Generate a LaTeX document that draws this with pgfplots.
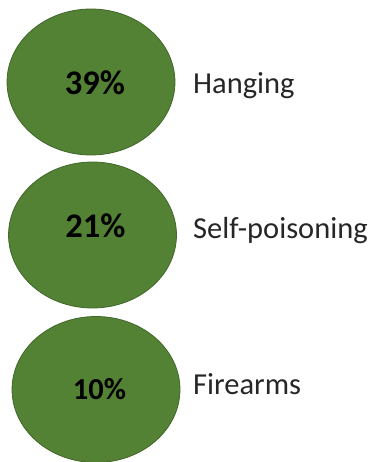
\documentclass[border=0pt]{standalone}
\usepackage{pgfplots}
\usepackage{pgfplotstable}
\pgfplotsset{compat=1.18}
\usepackage{fontspec}
\setmainfont{Carlito}
\definecolor{bubble}{HTML}{548235}
\definecolor{bubbleedge}{HTML}{41672A}
\pgfplotstableread{
cx cy lx ly label
91 82 193 93 Hanging
92.5 235 193 238 Self-poisoning
96 389.5 193 394 Firearms
}\data
\pgfplotstableread{
tx ty pct
95 94 39
95.5 237 21
}\pctbig
\pgfplotstableread{
tx ty pct
99.5 399 10
}\pctsmall
\begin{document}
\begin{tikzpicture}
\useasboundingbox (0,0) rectangle (374bp,462bp);
\begin{axis}[
  width=374bp, height=462bp, scale only axis,
  xmin=0, xmax=374, ymin=0, ymax=462, y dir=reverse,
  hide axis, clip=false,
]
\addplot[only marks, mark=*, mark size=73bp,
  mark options={xscale=1.15, fill=bubble, draw=bubbleedge, line width=0.8bp}]
  table[x=cx, y=cy] {\data};
\addplot[draw=none, mark=none, point meta=explicit symbolic,
  nodes near coords={\pgfplotspointmeta\%},
  every node near coord/.append style={anchor=base, inner sep=0pt, font=\fontsize{34.5bp}{36bp}\selectfont\bfseries, text=black}]
  table[x=tx, y=ty, meta=pct] {\pctbig};
\addplot[draw=none, mark=none, point meta=explicit symbolic,
  nodes near coords={\pgfplotspointmeta\%},
  every node near coord/.append style={anchor=base, inner sep=0pt, font=\fontsize{30.5bp}{33bp}\selectfont\bfseries, text=black}]
  table[x=tx, y=ty, meta=pct] {\pctsmall};
\addplot[draw=none, mark=none, point meta=explicit symbolic,
  nodes near coords,
  every node near coord/.append style={anchor=base west, inner sep=0pt, font=\fontsize{30.5bp}{33bp}\selectfont, text=black!85}]
  table[x=lx, y=ly, meta=label] {\data};
\end{axis}
\end{tikzpicture}
\end{document}
